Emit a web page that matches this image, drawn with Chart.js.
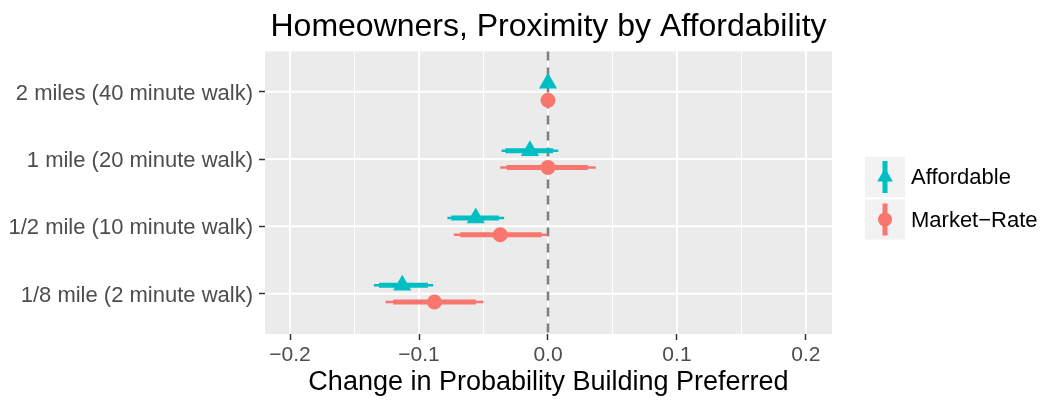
<!DOCTYPE html>
<html>
<head>
<meta charset="utf-8">
<script src="https://cdn.jsdelivr.net/npm/chart.js@4.4.1/dist/chart.umd.min.js"></script>
<style>
  html, body { margin: 0; padding: 0; background: #ffffff; }
</style>
</head>
<body>
<canvas id="myChart" width="1040" height="400"></canvas>
<script>
// categories, bottom to top
const categories = ['1/8 mile (2 minute walk)', '1/2 mile (10 minute walk)', '1 mile (20 minute walk)', '2 miles (40 minute walk)'];
const seriesNames = ['Affordable', 'Market\u2212Rate'];

// Affordable: estimate, outer (thin) and inner (thick) intervals
const affordableEst = [-0.113, -0.056, -0.014, 0.0];
const affordableLoOuter = [-0.135, -0.078, -0.036, 0.0];
const affordableHiOuter = [-0.089, -0.034, 0.008, 0.0];
const affordableLoInner = [-0.131, -0.075, -0.033, 0.0];
const affordableHiInner = [-0.093, -0.038, 0.004, 0.0];

// Market-Rate
const marketEst = [-0.088, -0.037, 0.0, 0.0];
const marketLoOuter = [-0.126, -0.073, -0.037, 0.0];
const marketHiOuter = [-0.050, 0.0, 0.037, 0.0];
const marketLoInner = [-0.120, -0.068, -0.032, 0.0];
const marketHiInner = [-0.056, -0.005, 0.031, 0.0];

const xTicks = [-0.2, -0.1, 0.0, 0.1, 0.2];
const xMinor = [-0.15, -0.05, 0.05, 0.15];
const yTicks = [1, 2, 3, 4];

const teal = '#00BFC4';
const salmon = '#F8766D';
const dodge = 0.125;

Chart.defaults.font.family = "'Liberation Sans', Arial, sans-serif";

function rangeData(lo, hi, offset) {
    var out = [];
    for (var i = 0; i < categories.length; i++) {
        var yv = i + 1 + offset;
        out.push({x: lo[i], y: yv}, {x: hi[i], y: yv}, {x: null, y: null});
    }
    return out;
}

function pointData(est, offset) {
    return est.map(function (v, i) { return {x: v, y: i + 1 + offset}; });
}

function rangeSet(data, color, width) {
    return {
        type: 'line',
        data: data,
        showLine: true,
        borderColor: color,
        borderWidth: width,
        borderCapStyle: 'butt',
        pointRadius: 0,
        fill: false,
        tension: 0,
        spanGaps: false
    };
}

// panel background, grid and the dashed zero line (under the marks)
const panelPlugin = {
    id: 'panel',
    beforeDatasetsDraw(chart) {
        const {ctx, chartArea: a, scales: {x, y}} = chart;
        ctx.save();
        ctx.fillStyle = '#EBEBEB';
        ctx.fillRect(a.left, a.top, a.right - a.left, a.bottom - a.top);
        ctx.strokeStyle = '#FFFFFF';
        ctx.lineWidth = 1;
        xMinor.forEach(function (v) {
            const px = x.getPixelForValue(v);
            ctx.beginPath(); ctx.moveTo(px, a.top); ctx.lineTo(px, a.bottom); ctx.stroke();
        });
        ctx.lineWidth = 2;
        xTicks.forEach(function (v) {
            const px = x.getPixelForValue(v);
            ctx.beginPath(); ctx.moveTo(px, a.top); ctx.lineTo(px, a.bottom); ctx.stroke();
        });
        yTicks.forEach(function (v) {
            const py = y.getPixelForValue(v);
            ctx.beginPath(); ctx.moveTo(a.left, py); ctx.lineTo(a.right, py); ctx.stroke();
        });
        const zx = x.getPixelForValue(0);
        ctx.strokeStyle = '#7F7F7F';
        ctx.lineWidth = 2.5;
        ctx.setLineDash([9, 7]);
        ctx.beginPath(); ctx.moveTo(zx, a.top); ctx.lineTo(zx, a.bottom); ctx.stroke();
        ctx.restore();
    }
};

// legend on the right, keys with a vertical range and the point shape
const legendPlugin = {
    id: 'sideLegend',
    afterDraw(chart) {
        const ctx = chart.ctx;
        const a = chart.chartArea;
        const keyX = a.right + 33, keyW = 40, keyH = 40;
        const tops = [157, 199.5];
        const colors = [teal, salmon];
        ctx.save();
        for (var i = 0; i < 2; i++) {
            const t = tops[i];
            const cx = keyX + keyW / 2, cy = t + keyH / 2;
            ctx.fillStyle = '#F2F2F2';
            ctx.fillRect(keyX, t, keyW, keyH);
            ctx.strokeStyle = colors[i];
            ctx.lineWidth = 5;
            ctx.beginPath(); ctx.moveTo(cx, t + 4); ctx.lineTo(cx, t + keyH - 4); ctx.stroke();
            ctx.fillStyle = colors[i];
            ctx.beginPath();
            if (i === 0) {
                const r = 9;
                ctx.moveTo(cx, cy - r);
                ctx.lineTo(cx + 0.866 * r, cy + r / 2);
                ctx.lineTo(cx - 0.866 * r, cy + r / 2);
                ctx.closePath();
            } else {
                ctx.arc(cx, cy, 7, 0, Math.PI * 2);
            }
            ctx.fill();
            ctx.fillStyle = '#000000';
            ctx.font = "22px 'Liberation Sans', Arial, sans-serif";
            ctx.textAlign = 'left';
            ctx.textBaseline = 'middle';
            ctx.fillText(seriesNames[i], keyX + keyW + 6, cy + 1);
        }
        ctx.restore();
    }
};

const ctx = document.getElementById('myChart');

new Chart(ctx, {
    type: 'scatter',
    data: {
        datasets: [
            {
                data: pointData(affordableEst, dodge),
                pointStyle: 'triangle',
                pointRadius: 10.5,
                backgroundColor: teal,
                borderWidth: 0
            },
            {
                data: pointData(marketEst, -dodge),
                pointStyle: 'circle',
                pointRadius: 7.5,
                backgroundColor: salmon,
                borderWidth: 0
            },
            rangeSet(rangeData(affordableLoInner, affordableHiInner, dodge), teal, 5),
            rangeSet(rangeData(marketLoInner, marketHiInner, -dodge), salmon, 5),
            rangeSet(rangeData(affordableLoOuter, affordableHiOuter, dodge), teal, 2.5),
            rangeSet(rangeData(marketLoOuter, marketHiOuter, -dodge), salmon, 2.5)
        ]
    },
    options: {
        responsive: false,
        animation: false,
        events: [],
        layout: { padding: { left: 0, right: 208, top: 0, bottom: 0 } },
        plugins: {
            legend: { display: false },
            tooltip: { enabled: false },
            title: {
                display: true,
                text: 'Homeowners, Proximity by Affordability',
                color: '#000000',
                fullSize: false,
                font: { size: 32, weight: 'normal' },
                padding: { top: 8, bottom: 5 }
            }
        },
        scales: {
            x: {
                type: 'linear',
                min: -0.2194,
                max: 0.2202,
                afterBuildTicks: function (scale) {
                    scale.ticks = xTicks.map(function (v) { return {value: v}; });
                },
                afterFit: function (scale) { scale.height = 66; },
                ticks: {
                    autoSkip: false,
                    maxRotation: 0,
                    color: '#4D4D4D',
                    font: { size: 21 },
                    padding: 3,
                    callback: function (v) { return v.toFixed(1).replace('-', '\u2212'); }
                },
                grid: { drawOnChartArea: false, drawTicks: true, tickLength: 6, tickColor: '#333333', tickWidth: 1.5 },
                border: { display: false },
                title: {
                    display: true,
                    text: 'Change in Probability Building Preferred',
                    color: '#000000',
                    font: { size: 27 },
                    padding: { top: 0, bottom: 1 }
                }
            },
            y: {
                type: 'linear',
                min: 0.4,
                max: 4.6,
                afterBuildTicks: function (scale) {
                    scale.ticks = yTicks.map(function (v) { return {value: v}; });
                },
                afterFit: function (scale) { scale.width = 265; },
                ticks: {
                    autoSkip: false,
                    color: '#4D4D4D',
                    font: { size: 22 },
                    padding: 6,
                    labelOffset: 2,
                    callback: function (v) { return categories[v - 1]; }
                },
                grid: { drawOnChartArea: false, drawTicks: true, tickLength: 6, tickColor: '#333333', tickWidth: 1.5 },
                border: { display: false }
            }
        }
    },
    plugins: [panelPlugin, legendPlugin]
});
</script>
</body>
</html>
